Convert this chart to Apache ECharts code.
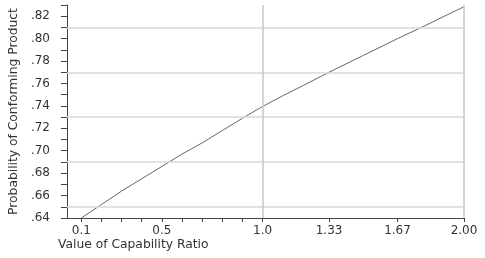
<!DOCTYPE html>
<html>
<head>
<meta charset="utf-8">
<script src="https://cdn.jsdelivr.net/npm/echarts@6/dist/echarts.min.js"></script>
<style>html,body{margin:0;padding:0;background:#fff}#c{width:485px;height:258px}</style>
</head>
<body>
<div id="c"></div>
<script>
// Data
const capRatio = [0.1, 0.2, 0.3, 0.4, 0.5, 0.6, 0.7, 0.8, 0.9, 1.0, 1.1, 1.2, 1.33, 1.5, 1.67, 1.8, 2.0];
const probConforming = [0.640, 0.652, 0.664, 0.675, 0.686, 0.697, 0.707, 0.718, 0.729, 0.7395, 0.749, 0.758, 0.770, 0.785, 0.800, 0.811, 0.8285];
const xTickValues = [0.1, 0.2, 0.3, 0.4, 0.5, 0.6, 0.7, 0.8, 0.9, 1.0, 1.33, 1.67, 2.0];
const xLabelValues = [0.1, 0.5, 1.0, 1.33, 1.67, 2.0];
const xLabelTexts = ['0.1', '0.5', '1.0', '1.33', '1.67', '2.00'];
const yTickValues = [0.64, 0.65, 0.66, 0.67, 0.68, 0.69, 0.70, 0.71, 0.72, 0.73, 0.74, 0.75, 0.76, 0.77, 0.78, 0.79, 0.80, 0.81, 0.82, 0.83];
const yLabelValues = [0.64, 0.66, 0.68, 0.70, 0.72, 0.74, 0.76, 0.78, 0.80, 0.82];
const yLabelTexts = ['.64', '.66', '.68', '.70', '.72', '.74', '.76', '.78', '.80', '.82'];
const gridY = [0.65, 0.69, 0.73, 0.77, 0.81];
const gridX = [1.0, 2.0];

const font = '"DejaVu Sans", sans-serif';
const chart = echarts.init(document.getElementById('c'), null, {renderer: 'canvas'});
const pairs = capRatio.map((x, i) => [x, probConforming[i]]);
function lbl(vals, texts, v) {
  for (let i = 0; i < vals.length; i++) if (Math.abs(vals[i] - v) < 1e-6) return texts[i];
  return '';
}
chart.setOption({
  animation: false,
  grid: {left: 61, right: 21, top: 5, bottom: 40, containLabel: false},
  xAxis: {
    type: 'value', min: 0.029, max: 2.0,
    name: 'Value of Capability Ratio', nameLocation: 'start', nameGap: 9,
    nameTextStyle: {align: 'left', verticalAlign: 'top', padding: [21, 0, 0, 0], fontFamily: font, fontSize: 12.3, color: '#333'},
    axisLine: {show: true, lineStyle: {color: '#444', width: 1}},
    axisTick: {show: true, customValues: xTickValues, length: 4, lineStyle: {color: '#444'}},
    axisLabel: {customValues: xLabelValues, formatter: v => lbl(xLabelValues, xLabelTexts, v), margin: 7, fontFamily: font, fontSize: 12, color: '#333'},
    splitLine: {show: false}
  },
  yAxis: {
    type: 'value', min: 0.64, max: 0.83,
    name: 'Probability of Conforming Product', nameLocation: 'middle', nameGap: 43,
    nameTextStyle: {fontFamily: font, fontSize: 12.3, color: '#333'},
    axisLine: {show: true, lineStyle: {color: '#444', width: 1}},
    axisTick: {show: true, customValues: yTickValues, length: 6, lineStyle: {color: '#444'}},
    axisLabel: {customValues: yLabelValues, formatter: v => lbl(yLabelValues, yLabelTexts, v), margin: 17, fontFamily: font, fontSize: 12, color: '#333'},
    splitLine: {show: false}
  },
  series: [{
    type: 'line', data: pairs, showSymbol: false, smooth: false,
    lineStyle: {color: '#666', width: 1},
    markLine: {
      silent: true, symbol: 'none', label: {show: false}, animation: false,
      lineStyle: {color: '#d8d8d8', width: 1.5, type: 'solid'},
      data: gridY.map(v => ({yAxis: v})).concat(gridX.map(v => ({xAxis: v, lineStyle: {color: '#c8c8c8', width: 1.5, type: 'solid'}})))
    },
    z: 3
  }]
});
</script>
</body>
</html>
